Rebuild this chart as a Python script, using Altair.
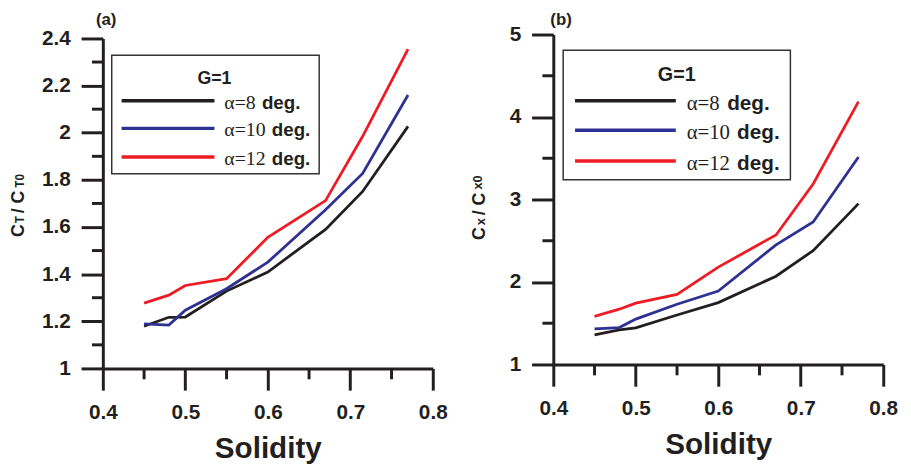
import altair as alt
import pandas as pd

# ---------------- data ----------------
solidity = [0.45, 0.48, 0.5, 0.55, 0.6, 0.67, 0.715, 0.77]
series_names = ["α=8 deg.", "α=10 deg.", "α=12 deg."]
alpha_parts = ["α=8", "α=10", "α=12"]
series_colors = ["#231f20", "#2e3192", "#ed1c24"]

ct_a8 = [1.179, 1.217, 1.218, 1.328, 1.409, 1.590, 1.751, 2.027]
ct_a10 = [1.189, 1.184, 1.247, 1.338, 1.451, 1.673, 1.827, 2.160]
ct_a12 = [1.277, 1.311, 1.352, 1.381, 1.556, 1.712, 1.985, 2.355]

cx_a8 = [1.359, 1.419, 1.443, 1.600, 1.750, 2.070, 2.380, 2.950]
cx_a10 = [1.431, 1.447, 1.550, 1.730, 1.890, 2.450, 2.728, 3.515]
cx_a12 = [1.583, 1.670, 1.743, 1.850, 2.180, 2.570, 3.188, 4.186]

x_major = [0.4, 0.5, 0.6, 0.7, 0.8]
x_minor = [0.45, 0.55, 0.65, 0.75]
ct_major = [1, 1.2, 1.4, 1.6, 1.8, 2, 2.2, 2.4]
ct_minor = [1.1, 1.3, 1.5, 1.7, 1.9, 2.1, 2.3]
cx_major = [1, 2, 3, 4, 5]
cx_minor = [1.5, 2.5, 3.5, 4.5]

legend_title = "G=1"
x_title = "Solidity"

INK = "#231f20"
SANS = "Liberation Sans"
SERIF = "Liberation Serif"
one = pd.DataFrame({"k": [0]})


def txt(text, x, y, size, font=SANS, weight="bold", align="left", baseline="alphabetic", angle=0):
    kw = dict(text=text, font=font, fontWeight=weight, fontSize=size, align=align,
              baseline=baseline, color=INK)
    if angle:
        kw["angle"] = angle
    return alt.Chart(one).mark_text(**kw).encode(x=alt.value(x), y=alt.value(y))


def panel(ys, ydom, ymaj, ymin, h, yrng, tparts, tx, lg, tag, tagx):
    rows = []
    for name, vals in zip(series_names, ys):
        for s, v in zip(solidity, vals):
            rows.append({"s": s, "v": v, "series": name})
    df = pd.DataFrame(rows)
    xs = alt.Scale(domain=[0.4, 0.8], nice=False, zero=False)
    ysc = alt.Scale(domain=ydom, range=yrng, nice=False, zero=False)
    xax = alt.Axis(values=x_major, format=".1f", title=x_title)
    yax = alt.Axis(values=ymaj, format="~g", title=None)

    lines = alt.Chart(df).mark_line(strokeWidth=2.8).encode(
        x=alt.X("s:Q", scale=xs, axis=xax),
        y=alt.Y("v:Q", scale=ysc, axis=yax),
        color=alt.Color("series:N", scale=alt.Scale(domain=series_names, range=series_colors),
                        legend=None),
        order=alt.Order("s:Q"),
    )
    xmin = alt.Chart(pd.DataFrame({"s": x_minor})).mark_rule(strokeWidth=3, color=INK).encode(
        x=alt.X("s:Q", scale=xs, axis=xax), y=alt.value(h), y2=alt.value(h + 11))
    ymn = alt.Chart(pd.DataFrame({"v": ymin})).mark_rule(strokeWidth=3, color=INK).encode(
        y=alt.Y("v:Q", scale=ysc, axis=yax), x=alt.value(0), x2=alt.value(-11))

    layers = [lines, xmin, ymn]
    # legend box
    layers.append(alt.Chart(one).mark_rect(fill="white", stroke="#333333", strokeWidth=1.5).encode(
        x=alt.value(lg["x0"]), x2=alt.value(lg["x1"]), y=alt.value(lg["y0"]), y2=alt.value(lg["y1"])))
    layers.append(txt(legend_title, lg["tx"], lg["ty"], lg["tsize"], align="center", baseline="middle"))
    for i in range(3):
        ly = lg["rows"][i]
        layers.append(alt.Chart(one).mark_rule(strokeWidth=3.5, color=series_colors[i]).encode(
            x=alt.value(lg["lx0"]), x2=alt.value(lg["lx1"]), y=alt.value(ly)))
        layers.append(txt(alpha_parts[i], lg["ax"], ly + lg["boff"], lg["size"], font=SERIF,
                          weight="normal"))
        layers.append(txt("deg.", lg["dx"][i], ly + lg["boff"], lg["dsize"]))
    # y title pieces
    for (t, size, ypos, dx) in tparts:
        layers.append(txt(t, tx + dx, ypos, size, angle=270))
    # panel tag
    layers.append(txt(tag, tagx, -10, 17))
    return alt.layer(*layers).properties(width=334, height=h)


leg_a = dict(x0=9, x1=219, y0=21, y1=141, tx=113, ty=45, tsize=18,
             lx0=19, lx1=113, rows=[67, 95, 124], ax=123, dx=[161, 171, 171],
             boff=8, size=20, dsize=19)
leg_b = dict(x0=10, x1=240, y0=16, y1=147, tx=125, ty=41, tsize=20,
             lx0=22, lx1=124, rows=[67, 97, 128], ax=135, dx=[176, 186, 186],
             boff=9, size=21, dsize=21)

title_a = [("C", 18, 205, 0), ("T", 12, 191, 0), ("/", 18, 181, 0), ("C", 18, 171, 0), ("T0", 12, 155, 0)]
title_b = [("C", 18, 208, 0), ("x", 13, 193, 0), ("/", 18, 183, 0), ("C", 18, 173, 0), ("x0", 13, 157, -3)]

pa = panel([ct_a8, ct_a10, ct_a12], [1, 2.4], ct_major, ct_minor, 338, [338, 4],
           title_a, -80, leg_a, "(a)", -7)
pb = panel([cx_a8, cx_a10, cx_a12], [1, 5], cx_major, cx_minor, 334, [334, 0],
           title_b, -69, leg_b, "(b)", -3)

chart = alt.hconcat(pa, pb, spacing=122, bounds="flush").configure_axis(
    domainColor=INK, domainWidth=3, tickColor=INK, tickWidth=3, tickSize=22,
    labelFont=SANS, labelFontWeight="bold", labelFontSize=21, labelColor=INK,
    labelFlush=False, labelOverlap=False,
    titleFont=SANS, titleFontWeight="bold", titleFontSize=30, titleColor=INK,
    grid=False,
).configure_axisX(labelPadding=12, titlePadding=11).configure_axisY(
    labelPadding=11
).configure_view(stroke=None).properties(
    padding={"left": 2, "top": 0, "right": 5, "bottom": 5}
)

chart.save("out.html", embed_options={"renderer": "svg", "actions": False})
